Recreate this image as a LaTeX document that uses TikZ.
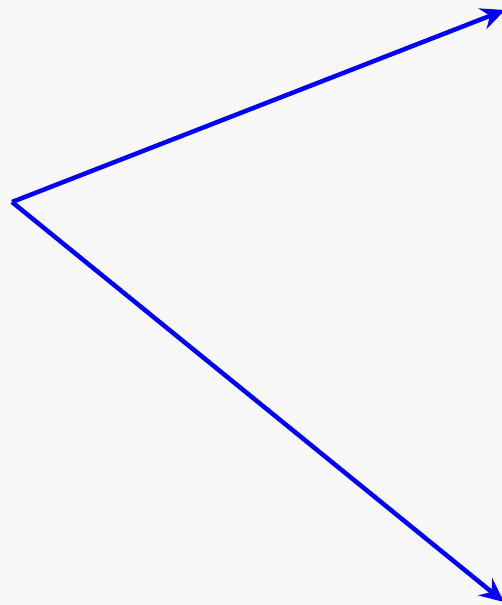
\documentclass[tikz,border=0pt]{standalone}
\usetikzlibrary{arrows.meta}
\definecolor{bg}{HTML}{F8F8F8}

\begin{document}
\begin{tikzpicture}[x=1pt,y=-1pt]
\tikzset{vec/.style={draw=blue,line width=4.5pt,-{Stealth[length=24pt,width=22pt,inset=8pt]}}}
\clip (0,0) rectangle (502,605);
\fill[bg] (0,0) rectangle (502,605);

% origin and the two ends
\coordinate (o) at (12,202);
\coordinate (up) at (505,10);
\coordinate (down) at (504,602);

\draw[vec] (o) -- (up);
\draw[vec] (o) -- (down);
\end{tikzpicture}
\end{document}
